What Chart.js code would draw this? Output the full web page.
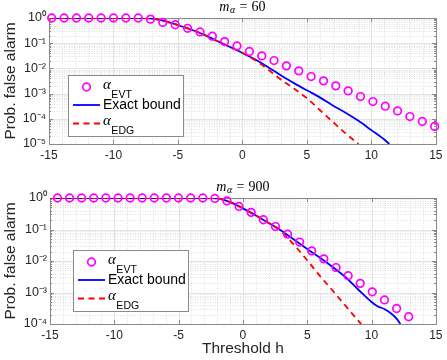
<!DOCTYPE html>
<html><head><meta charset="utf-8">
<script src="https://cdn.jsdelivr.net/npm/chart.js@4.4.1/dist/chart.umd.min.js"></script>
<style>
html,body{margin:0;padding:0;background:#fff;width:447px;height:360px;overflow:hidden}
.wrap{position:absolute;left:0;width:447px;height:180px}
canvas{display:block}
</style></head><body>
<div class="wrap" style="top:0"><canvas id="c1" width="447" height="180"></canvas></div>
<div class="wrap" style="top:180px"><canvas id="c2" width="447" height="180"></canvas></div>
<script>
// ---------- data ----------
const xTickValues = [-15, -10, -5, 0, 5, 10, 15];
const topYTickExponents = [-5, -4, -3, -2, -1, 0];
const bottomYTickExponents = [-4, -3, -2, -1, 0];
const titleValues = ['60', '900'];
const legendMain = ['α', 'Exact bound', 'α'];
const legendSub = ['EVT', '', 'EDG'];
const xAxisTitle = 'Threshold h';
const yAxisTitle = 'Prob. false alarm';

// top panel (m_alpha = 60)
const topEvtH = [-14.79,-13.83,-12.87,-11.92,-10.96,-10.00,-9.04,-8.08,-7.13,-6.17,-5.21,-4.25,-3.29,-2.33,-1.38,-0.42,0.54,1.50,2.45,3.41,4.37,5.33,6.29,7.24,8.20,9.16,10.12,11.08,12.03,12.99,13.95,14.91];
const topEvtP = [1,1,1,1,1,1,1,1,0.9,0.67,0.54,0.39,0.28,0.19,0.116,0.078,0.047,0.0314,0.0205,0.0126,0.0080,0.00475,0.0032,0.00203,0.00128,0.000765,0.000484,0.000316,0.000206,0.000123,0.000078,0.000050];
const topExactH = [-15,-10,-8,-7.5,-7,-6,-5,-4,-3,-2,-1,0,1,2,3,4,5,6,7,8,9,10,11,11.4];
const topExactP = [1,1,1,0.995,0.95,0.75,0.52,0.35,0.22,0.125,0.072,0.041,0.0224,0.0112,0.0052,0.0026,0.00135,0.00071,0.00034,0.000174,0.000083,0.0000355,0.0000151,0.00001];
const topEdgH = [-15,-10,-8,-7.5,-7,-6,-5,-4,-3,-2,-1,0,1,2,3,4,5,6,7,8,9];
const topEdgP = [1,1,1,0.995,0.95,0.75,0.52,0.35,0.22,0.125,0.072,0.041,0.021,0.0089,0.00355,0.00158,0.00066,0.000224,0.000076,0.0000263,0.00001];

// bottom panel (m_alpha = 900)
const botEvtH = [-14.42,-13.48,-12.54,-11.60,-10.66,-9.71,-8.77,-7.83,-6.89,-5.95,-5.01,-4.06,-3.12,-2.18,-1.24,-0.30,0.64,1.59,2.53,3.47,4.41,5.35,6.29,7.24,8.18,9.12,10.06,11.01,11.95,12.89];
const botEvtP = [1,1,1,1,1,1,1,1,1,1,1,1,1,0.966,0.81,0.54,0.35,0.204,0.124,0.071,0.040,0.021,0.0117,0.0062,0.0034,0.00195,0.00105,0.00058,0.00031,0.00017];
const botExactH = [-15,-10,-5,-3,-2.5,-2,-1,0,1,2,3,4,5,6,7,8,9,10,10.5,11,11.5,12,12.25];
const botExactP = [1,1,1,1,0.995,0.97,0.74,0.47,0.28,0.162,0.091,0.047,0.024,0.0126,0.0063,0.0030,0.0012,0.0005,0.00036,0.0003,0.00022,0.00014,0.0001];
const botEdgH = [-15,-10,-5,-3,-2.5,-2,-1,0,1,2,3,4,5,6,7,8,9,9.2];
const botEdgP = [1,1,1,1,0.995,0.97,0.74,0.47,0.28,0.162,0.085,0.0316,0.0105,0.0033,0.00112,0.00037,0.000123,0.0001];

// ---------- styling ----------
const FONT = "'Liberation Sans', Arial, Helvetica, sans-serif";
const SERIF = "'Liberation Serif', 'Times New Roman', serif";
const AX = '#262626';
const BOX = '#8a8a8a';
const MAJ = '#e3e3e3';
const MIN = '#e0e0e0';

function sup(e) {
  const m = {'0':'⁰','1':'¹','2':'²','3':'³','4':'⁴','5':'⁵','6':'⁶','7':'⁷','8':'⁸','9':'⁹','-':'⁻'};
  return String(e).split('').map(c => m[c]).join('');
}

function makeChart(canvasId, o) {
  const el = document.getElementById(canvasId);
  const area = o.area;
  const exps = o.yExp;
  const pts = (H, P) => H.map((h, i) => ({x: h, y: P[i]}));

  const decor = {
    id: 'decor',
    beforeDatasetsDraw(chart) {
      const {ctx, chartArea: a, scales: {x, y}} = chart;
      const L = Math.round(a.left), R = Math.round(a.right), T = Math.round(a.top), B = Math.round(a.bottom);
      ctx.save();
      ctx.lineWidth = 1;
      for (const t of x.ticks) {
        const px = Math.round(x.getPixelForValue(t.value)) + 0.5;
        if (px <= L + 1 || px >= R) continue;
        ctx.strokeStyle = t.mj ? MAJ : MIN;
        ctx.setLineDash(t.mj ? [] : [1, 1.5]);
        ctx.beginPath(); ctx.moveTo(px, T); ctx.lineTo(px, B); ctx.stroke();
      }
      for (const t of y.ticks) {
        const py = Math.round(y.getPixelForValue(t.value)) + 0.5;
        if (py <= T + 1 || py >= B) continue;
        ctx.strokeStyle = t.mj ? MAJ : MIN;
        ctx.setLineDash(t.mj ? [] : [1, 1.5]);
        ctx.beginPath(); ctx.moveTo(L, py); ctx.lineTo(R, py); ctx.stroke();
      }
      ctx.setLineDash([]);
      ctx.strokeStyle = BOX;
      ctx.strokeRect(L + 0.5, T + 0.5, R - L, B - T);
      ctx.beginPath();
      for (const t of x.ticks) {
        if (!t.mj) continue;
        const px = Math.round(x.getPixelForValue(t.value)) + 0.5;
        ctx.moveTo(px, B); ctx.lineTo(px, B - 4);
        ctx.moveTo(px, T); ctx.lineTo(px, T + 4);
      }
      for (const t of y.ticks) {
        const py = Math.round(y.getPixelForValue(t.value)) + 0.5;
        const len = t.mj ? 4 : 2;
        ctx.moveTo(L, py); ctx.lineTo(L + len, py);
        ctx.moveTo(R, py); ctx.lineTo(R - len, py);
      }
      ctx.stroke();
      ctx.restore();
    },
    afterDatasetsDraw(chart) {
      const {ctx} = chart;
      const lg = o.legend;
      const ds = chart.data.datasets;
      ctx.save();
      ctx.fillStyle = '#fff';
      ctx.fillRect(lg.x, lg.y, lg.w, lg.h);
      ctx.strokeStyle = BOX; ctx.lineWidth = 1;
      ctx.strokeRect(lg.x + 0.5, lg.y + 0.5, lg.w, lg.h);
      const rows = [12, 30, 48.5];
      const order = [0, 2, 1];
      for (let r = 0; r < 3; r++) {
        const d = ds[order[r]];
        const cy = lg.y + rows[r];
        ctx.beginPath();
        ctx.lineWidth = d.borderWidth;
        ctx.strokeStyle = d.borderColor;
        if (r === 0) {
          ctx.arc(lg.x + 18.5, cy, d.pointRadius, 0, Math.PI * 2);
          ctx.stroke();
        } else {
          ctx.setLineDash(d.borderDash || []);
          ctx.moveTo(lg.x + 5, cy); ctx.lineTo(lg.x + 32, cy);
          ctx.stroke();
          ctx.setLineDash([]);
        }
        const tx = lg.x + 35;
        ctx.fillStyle = '#000';
        ctx.textAlign = 'left';
        if (legendSub[r]) {
          ctx.textBaseline = 'alphabetic';
          ctx.font = `italic 15px ${SERIF}`;
          ctx.fillText(legendMain[r], tx, cy + 1.5);
          const w = ctx.measureText(legendMain[r]).width;
          ctx.font = `10.5px ${FONT}`;
          ctx.fillText(legendSub[r], tx + w + 0.5, cy + 10.5);
        } else {
          ctx.textBaseline = 'middle';
          ctx.font = `14px ${FONT}`;
          ctx.fillText(legendMain[r], tx, cy + 0.5);
        }
      }
      ctx.restore();
    },
    afterDraw(chart) {
      const {ctx, chartArea: a} = chart;
      ctx.save();
      ctx.fillStyle = '#000';
      ctx.textBaseline = 'alphabetic';
      ctx.textAlign = 'left';
      const fm = `italic 14px ${SERIF}`, fa = `italic 10px ${SERIF}`, fr = `14px ${SERIF}`;
      ctx.font = fm; const wm = ctx.measureText('m').width;
      ctx.font = fa; const wa = ctx.measureText('α').width;
      ctx.font = fr; const we = ctx.measureText('=').width;
      const wn = ctx.measureText(o.title).width;
      const gap = 4.2;
      const total = wm + wa + 0.5 + gap + we + gap + wn;
      let x0 = (a.left + a.right) / 2 - total / 2;
      const base = 10.5;
      ctx.font = fm; ctx.fillText('m', x0, base); x0 += wm + 0.5;
      ctx.font = fa; ctx.fillText('α', x0, base + 2.5); x0 += wa + gap;
      ctx.font = fr; ctx.fillText('=', x0, base); x0 += we + gap;
      ctx.fillText(o.title, x0, base);
      ctx.restore();
    }
  };

  return new Chart(el, {
    type: 'line',
    data: {
      datasets: [
        {label: 'EVT', data: pts(o.evtH, o.evtP), showLine: false, pointStyle: 'circle',
         pointRadius: 3.8, pointBorderWidth: 1.7, borderWidth: 1.7, borderColor: '#ff00ff',
         pointBorderColor: '#ff00ff', pointBackgroundColor: 'rgba(0,0,0,0)', backgroundColor: 'rgba(0,0,0,0)', clip: 10},
        {label: 'EDG', data: pts(o.edgH, o.edgP), borderColor: '#ff0000', borderWidth: 1.8,
         borderDash: [6, 4.5], pointRadius: 0, cubicInterpolationMode: 'monotone', fill: false},
        {label: 'Exact bound', data: pts(o.exH, o.exP), borderColor: '#0000ff', borderWidth: 1.8,
         pointRadius: 0, cubicInterpolationMode: 'monotone', fill: false}
      ]
    },
    options: {
      responsive: false, animation: false, devicePixelRatio: 1,
      layout: {padding: {left: 0, right: 447 - area.right, top: area.top, bottom: 0}},
      plugins: {legend: {display: false}, tooltip: {enabled: false}, title: {display: false}},
      scales: {
        x: {
          type: 'linear', min: -15, max: 15,
          afterBuildTicks(s) {
            const t = [];
            for (let h = -15; h <= 15; h++) t.push({value: h, mj: xTickValues.includes(h)});
            s.ticks = t;
          },
          afterFit(s) { s.height = 180 - area.bottom; },
          grid: {display: false, drawTicks: false},
          border: {display: false},
          ticks: {autoSkip: false, maxRotation: 0, minRotation: 0, padding: 4.5, color: AX,
                  font: {family: FONT, size: 12},
                  callback(v, i, ticks) { return ticks[i].mj ? String(v) : ''; }},
          title: {display: o.xTitle, text: xAxisTitle, color: AX, font: {family: FONT, size: 15.5},
                  padding: {top: 0, bottom: 1.5}}
        },
        y: {
          type: 'logarithmic', min: Math.pow(10, exps[0]), max: Math.pow(10, exps[exps.length - 1]),
          afterBuildTicks(s) {
            const t = [];
            for (let k = 0; k < exps.length - 1; k++) {
              for (let m = 1; m <= 9; m++) t.push({value: m * Math.pow(10, exps[k]), mj: m === 1, e: exps[k]});
            }
            t.push({value: Math.pow(10, exps[exps.length - 1]), mj: true, e: exps[exps.length - 1]});
            s.ticks = t;
          },
          afterFit(s) { s.width = area.left; },
          grid: {display: false, drawTicks: false},
          border: {display: false},
          ticks: {autoSkip: false, padding: 3, color: AX, font: {family: FONT, size: 12.5},
                  callback(v, i, ticks) { return ticks[i].mj ? '10' + sup(ticks[i].e) : ''; }},
          title: {display: true, text: yAxisTitle, color: AX, font: {family: FONT, size: 15.5},
                  padding: {top: 1, bottom: 0}}
        }
      }
    },
    plugins: [decor]
  });
}

makeChart('c1', {
  area: {left: 49, right: 439, top: 18, bottom: 144},
  yExp: topYTickExponents, title: titleValues[0], xTitle: false,
  evtH: topEvtH, evtP: topEvtP, exH: topExactH, exP: topExactP, edgH: topEdgH, edgP: topEdgP,
  legend: {x: 68, y: 75, w: 115, h: 61}
});
makeChart('c2', {
  area: {left: 50, right: 440, top: 18, bottom: 144},
  yExp: bottomYTickExponents, title: titleValues[1], xTitle: true,
  evtH: botEvtH, evtP: botEvtP, exH: botExactH, exP: botExactP, edgH: botEdgH, edgP: botEdgP,
  legend: {x: 73, y: 70, w: 115, h: 61}
});
</script>
</body></html>
